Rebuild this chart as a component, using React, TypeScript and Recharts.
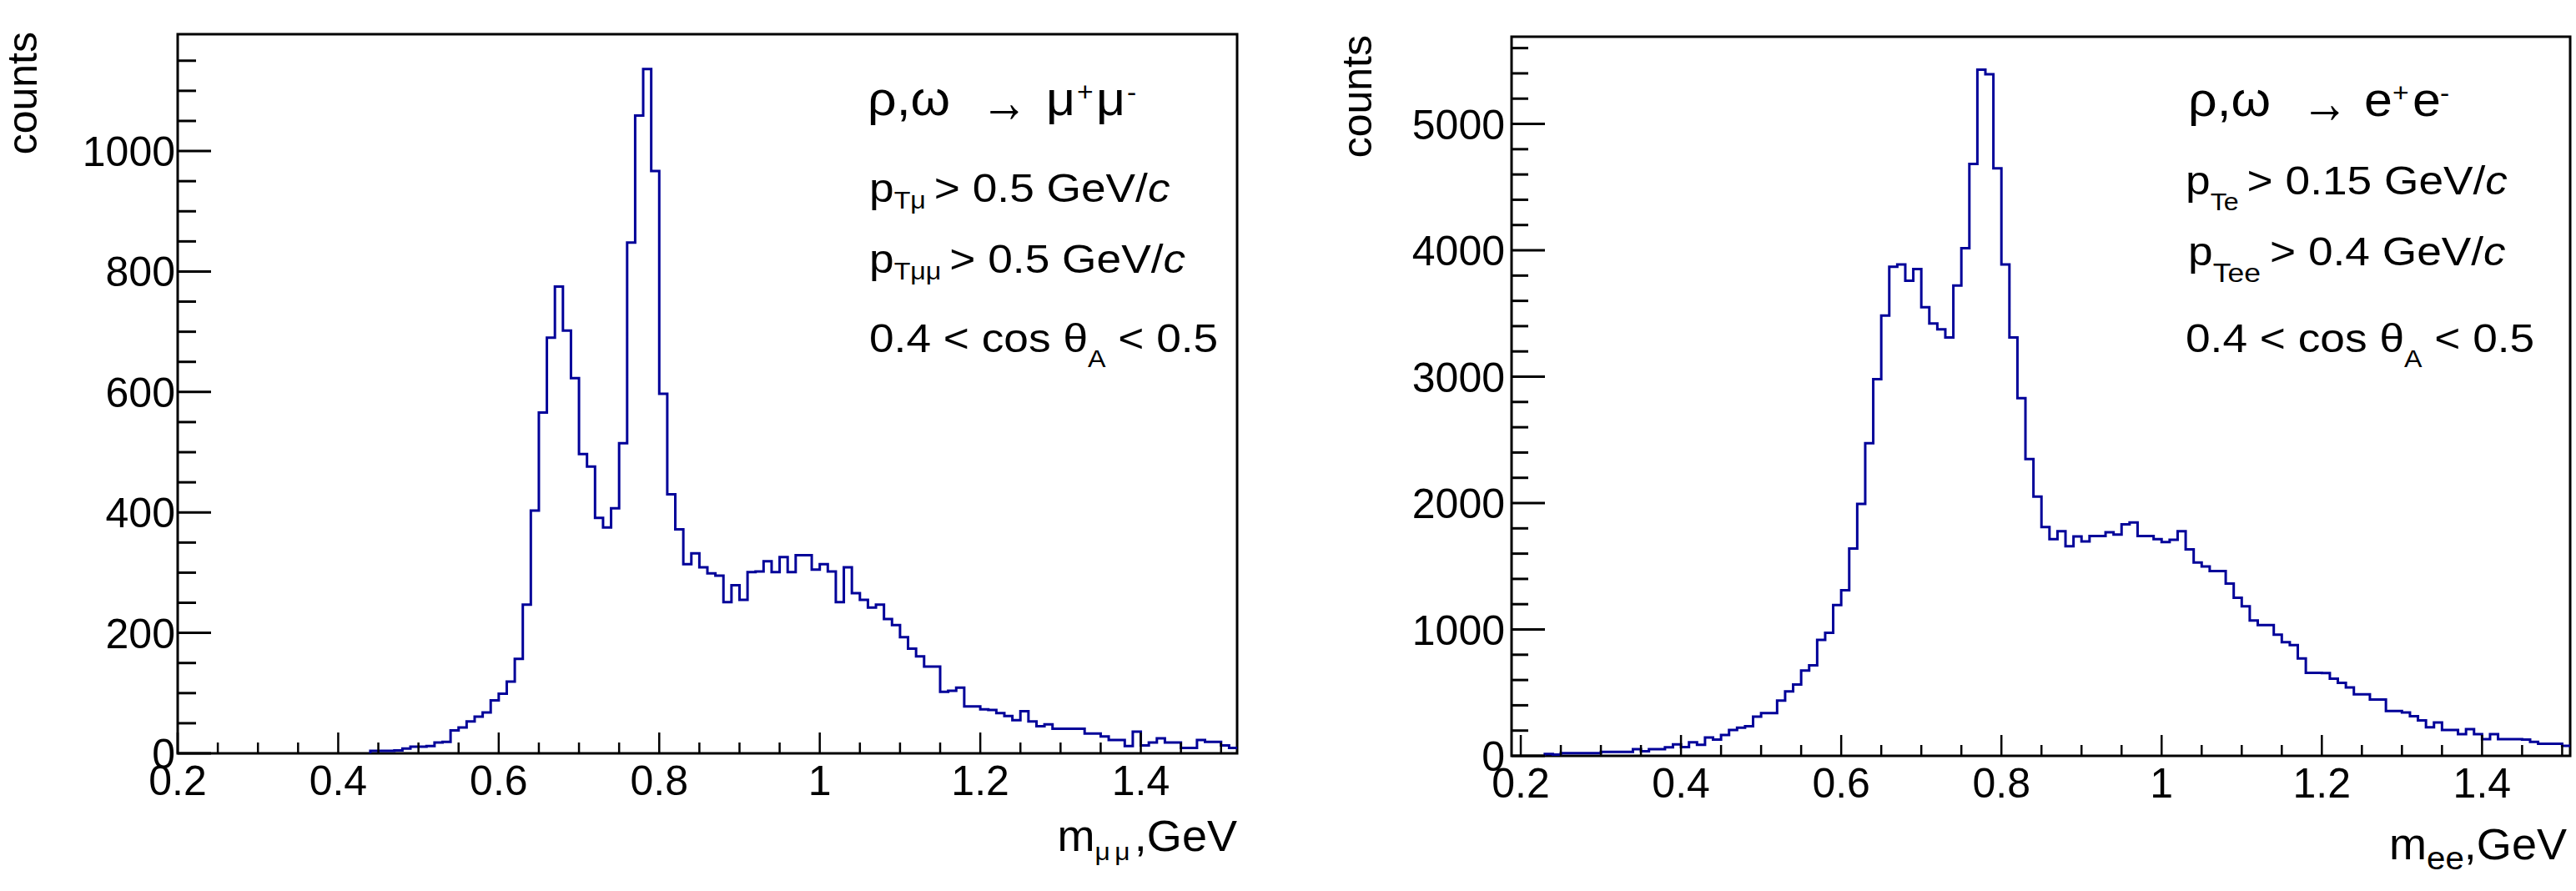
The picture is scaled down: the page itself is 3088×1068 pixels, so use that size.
import React from "react";
import { LineChart, Line, XAxis, YAxis, ReferenceArea } from "recharts";

const FONT = "'Liberation Sans', Arial, Helvetica, sans-serif";
const HIST_BLUE = "#000099";
const BIN_WIDTH = 0.01;

// rho,omega -> mu+mu- : counts per 10 MeV bin, first bin starts at 0.44 GeV
const muFirstBin = 0.44;
const muCounts = [
  4, 4, 4, 5, 8, 11, 11, 12, 18, 19,
  38, 43, 53, 61, 68, 88, 99, 119, 157, 247,
  403, 566, 690, 775, 702, 623, 497, 476, 391, 375,
  407, 515, 848, 1059, 1136, 967, 597, 430, 372, 314,
  332, 309, 299, 295, 251, 279, 255, 301, 302, 319,
  301, 326, 301, 329, 329, 305, 314, 302, 251, 309,
  266, 255, 242, 247, 223, 213, 193, 174, 161, 144,
  144, 102, 104, 109, 78, 78, 73, 72, 67, 62,
  55, 70, 53, 45, 48, 41, 41, 41, 41, 33,
  33, 28, 22, 22, 12, 36, 13, 18, 25, 18,
  18, 9, 9, 22, 19, 19, 13, 9,
];

// rho,omega -> e+e- : counts per 10 MeV bin, first bin starts at 0.23 GeV
const eeFirstBin = 0.23;
const eeCounts = [
  15, 10, 22, 22, 22, 22, 22, 32, 32, 32,
  32, 52, 36, 52, 52, 68, 90, 70, 108, 88,
  145, 128, 165, 205, 222, 235, 311, 338, 338, 437,
  510, 565, 675, 716, 918, 973, 1193, 1311, 1641, 1993,
  2474, 2981, 3484, 3869, 3888, 3759, 3851, 3550, 3421, 3374,
  3311, 3722, 4016, 4684, 5430, 5393, 4648, 3888, 3311, 2830,
  2349, 2052, 1810, 1714, 1777, 1659, 1736, 1696, 1740, 1740,
  1769, 1751, 1832, 1847, 1740, 1740, 1714, 1692, 1710, 1777,
  1633, 1530, 1498, 1462, 1462, 1363, 1251, 1183, 1071, 1035,
  1035, 958, 900, 877, 770, 657, 657, 655, 611, 578,
  541, 486, 486, 446, 446, 354, 354, 343, 314, 281,
  226, 264, 205, 205, 172, 211, 172, 132, 172, 132,
  132, 132, 128, 110, 95, 95, 95, 80,
];

const xTicks = [
  0.2, 0.25, 0.3, 0.35, 0.4, 0.45, 0.5, 0.55, 0.6, 0.65, 0.7, 0.75, 0.8, 0.85,
  0.9, 0.95, 1, 1.05, 1.1, 1.15, 1.2, 1.25, 1.3, 1.35, 1.4, 1.45, 1.5,
];
const xMajor = [0.2, 0.4, 0.6, 0.8, 1, 1.2, 1.4];
const xLabels = ["0.2", "0.4", "0.6", "0.8", "1", "1.2", "1.4"];

const muYTicks = [
  0, 50, 100, 150, 200, 250, 300, 350, 400, 450, 500, 550, 600, 650, 700, 750,
  800, 850, 900, 950, 1000, 1050, 1100, 1150,
];
const muYMajor = [0, 200, 400, 600, 800, 1000];
const muYLabels = ["0", "200", "400", "600", "800", "1000"];

const eeYTicks = [
  0, 200, 400, 600, 800, 1000, 1200, 1400, 1600, 1800, 2000, 2200, 2400, 2600,
  2800, 3000, 3200, 3400, 3600, 3800, 4000, 4200, 4400, 4600, 4800, 5000, 5200,
  5400, 5600,
];
const eeYMajor = [0, 1000, 2000, 3000, 4000, 5000];
const eeYLabels = ["0", "1000", "2000", "3000", "4000", "5000"];

// step outline: vertical rise at the first edge, one point per bin, closing edge
const toSteps = (first: number, counts: number[]) => {
  const edge = (i: number) => Math.round((first + i * BIN_WIDTH) * 1000) / 1000;
  const pts = [{ m: edge(0), n: 0 }];
  counts.forEach((n, i) => pts.push({ m: edge(i), n }));
  pts.push({ m: edge(counts.length), n: counts[counts.length - 1] });
  return pts;
};

const muData = toSteps(muFirstBin, muCounts);
const eeData = toSteps(eeFirstBin, eeCounts);

const findIdx = (arr: number[], v: number) => arr.findIndex((a) => Math.abs(a - v) < 1e-6);

const XTick = (props: any) => {
  const { x, y, payload } = props;
  const i = findIdx(xMajor, payload.value);
  return (
    <g>
      <line x1={x} x2={x} y1={y} y2={y - (i >= 0 ? 25 : 13)} stroke="#000" strokeWidth={2.5} />
      {i >= 0 && (
        <text x={x} y={y + 50} textAnchor="middle" fontSize={50} fontFamily={FONT} fill="#000">
          {xLabels[i]}
        </text>
      )}
    </g>
  );
};

const makeYTick = (major: number[], labels: string[], minorLen: number, gap: number) => (props: any) => {
  const { x, y, payload } = props;
  const i = findIdx(major, payload.value);
  return (
    <g>
      <line x1={x} x2={x + (i >= 0 ? 40 : minorLen)} y1={y} y2={y} stroke="#000" strokeWidth={3} />
      {i >= 0 && (
        <text x={x - gap} y={y} dy="0.36em" textAnchor="end" fontSize={50} fontFamily={FONT} fill="#000">
          {labels[i]}
        </text>
      )}
    </g>
  );
};

const muYTick = makeYTick(muYMajor, muYLabels, 22, 3);
const eeYTick = makeYTick(eeYMajor, eeYLabels, 20, 8);

type PanelProps = {
  data: { m: number; n: number }[];
  xDomain: [number, number];
  yDomain: [number, number];
  yTicks: number[];
  yTick: (p: any) => React.ReactElement;
  margin: { top: number; right: number; bottom: number; left: number };
};

const Panel = ({ data, xDomain, yDomain, yTicks, yTick, margin }: PanelProps) => (
  <LineChart width={1544} height={1068} data={data} margin={margin}>
    <XAxis
      type="number"
      dataKey="m"
      domain={xDomain}
      allowDataOverflow
      ticks={xTicks}
      interval={0}
      tickSize={0}
      tickMargin={0}
      axisLine={false}
      tickLine={false}
      height={40}
      tick={(p: any) => <XTick {...p} />}
    />
    <YAxis
      type="number"
      domain={yDomain}
      allowDataOverflow
      ticks={yTicks}
      interval={0}
      tickSize={0}
      tickMargin={0}
      axisLine={false}
      tickLine={false}
      width={60}
      tick={(p: any) => yTick(p)}
    />
    <Line
      type="stepAfter"
      dataKey="n"
      stroke={HIST_BLUE}
      strokeWidth={3}
      dot={false}
      activeDot={false}
      isAnimationActive={false}
    />
    <ReferenceArea
      x1={xDomain[0]}
      x2={xDomain[1]}
      y1={yDomain[0]}
      y2={yDomain[1]}
      fill="none"
      stroke="#000"
      strokeWidth={3}
      ifOverflow="visible"
    />
  </LineChart>
);

// horizontally stretched text, like the ROOT latex labels
const T = ({ x, y, size, sx = 1.11, anchor = "start", children }: any) => (
  <g transform={`translate(${x},${y}) scale(${sx},1)`}>
    <text x={0} y={0} fontSize={size} fontFamily={FONT} fill="#000" textAnchor={anchor}>
      {children}
    </text>
  </g>
);

const Labels = () => (
  <svg
    width={3088}
    height={1068}
    style={{ position: "absolute", left: 0, top: 0, pointerEvents: "none" }}
  >
    {/* axis titles */}
    <text transform="translate(44,38) rotate(-90)" textAnchor="end" fontSize={50} fontFamily={FONT}>
      counts
    </text>
    <text transform="translate(1644,42) rotate(-90)" textAnchor="end" fontSize={50} fontFamily={FONT}>
      counts
    </text>
    <T x={1483} y={1020} size={51} sx={1.06} anchor="end">
      m<tspan fontSize={30} dy={11} letterSpacing={5}>μμ</tspan>
      <tspan fontSize={51} dy={-11}>,GeV</tspan>
    </T>
    <T x={3077} y={1030} size={51} sx={1.06} anchor="end">
      m<tspan fontSize={38} dy={12}>ee</tspan>
      <tspan fontSize={51} dy={-12}>,GeV</tspan>
    </T>

    {/* left panel notes */}
    <T x={1040} y={138} size={58} sx={1.05}>ρ,ω</T>
    <T x={1176} y={146} size={70} sx={0.8}>→</T>
    <T x={1254} y={138} size={58} sx={1.05}>μ</T>
    <T x={1291} y={121} size={32} sx={1.05}>+</T>
    <T x={1314} y={138} size={58} sx={1.05}>μ</T>
    <T x={1351} y={121} size={32} sx={1.05}>-</T>
    <T x={1042} y={242} size={48}>
      p<tspan fontSize={29} dy={8}>Tμ</tspan>
      <tspan fontSize={48} dy={-8} dx={9}>{"> 0.5 GeV/"}</tspan>
      <tspan fontStyle="italic">c</tspan>
    </T>
    <T x={1042} y={327} size={48}>
      p<tspan fontSize={29} dy={8}>Tμμ</tspan>
      <tspan fontSize={48} dy={-8} dx={9}>{"> 0.5 GeV/"}</tspan>
      <tspan fontStyle="italic">c</tspan>
    </T>
    <T x={1042} y={422} size={48}>
      {"0.4 < cos θ"}
      <tspan fontSize={29} dy={18}>A</tspan>
      <tspan fontSize={48} dy={-18}>{" < 0.5"}</tspan>
    </T>

    {/* right panel notes */}
    <T x={2623} y={139} size={58} sx={1.05}>ρ,ω</T>
    <T x={2759} y={147} size={70} sx={0.8}>→</T>
    <T x={2834} y={139} size={58} sx={1.05}>e</T>
    <T x={2868} y={122} size={32} sx={1.05}>+</T>
    <T x={2892} y={139} size={58} sx={1.05}>e</T>
    <T x={2925} y={122} size={32} sx={1.05}>-</T>
    <T x={2620} y={233} size={48}>
      p<tspan fontSize={29} dy={19}>Te</tspan>
      <tspan fontSize={48} dy={-19} dx={9}>{"> 0.15 GeV/"}</tspan>
      <tspan fontStyle="italic">c</tspan>
    </T>
    <T x={2623} y={318} size={48}>
      p<tspan fontSize={32} dy={20}>Tee</tspan>
      <tspan fontSize={48} dy={-20} dx={10}>{"> 0.4 GeV/"}</tspan>
      <tspan fontStyle="italic">c</tspan>
    </T>
    <T x={2620} y={422} size={48}>
      {"0.4 < cos θ"}
      <tspan fontSize={29} dy={18}>A</tspan>
      <tspan fontSize={48} dy={-18}>{" < 0.5"}</tspan>
    </T>
  </svg>
);

export default function App() {
  return (
    <div
      style={{
        position: "absolute",
        left: 0,
        top: 0,
        width: 3088,
        height: 1068,
        background: "#fff",
        overflow: "hidden",
      }}
    >
      <div style={{ position: "absolute", left: 0, top: 0 }}>
        <Panel
          data={muData}
          xDomain={[0.2, 1.52]}
          yDomain={[0, 1194]}
          yTicks={muYTicks}
          yTick={muYTick}
          margin={{ top: 41, right: 61, bottom: 125, left: 153 }}
        />
      </div>
      <div style={{ position: "absolute", left: 1544, top: 0 }}>
        <Panel
          data={eeData}
          xDomain={[0.1885, 1.51]}
          yDomain={[0, 5690]}
          yTicks={eeYTicks}
          yTick={eeYTick}
          margin={{ top: 44, right: 7, bottom: 122, left: 208 }}
        />
      </div>
      <Labels />
    </div>
  );
}
